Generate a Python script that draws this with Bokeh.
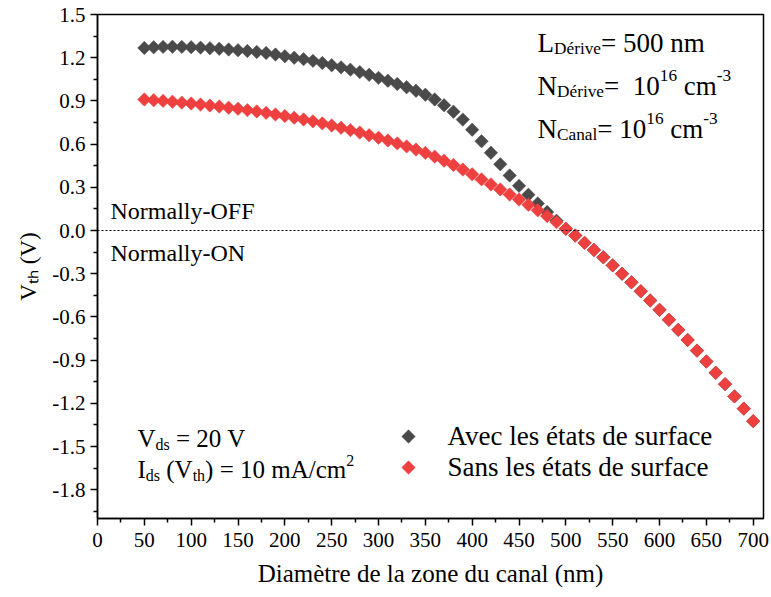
import math
from bokeh.plotting import figure
from bokeh.models import Label, Span, FixedTicker, PrintfTickFormatter, Range1d
from bokeh.embed import file_html
from bokeh.resources import INLINE

# ---------------- data ----------------
diametre = [50, 60, 70, 80, 90, 100, 110, 120, 130, 140, 150, 160, 170, 180, 190,
            200, 210, 220, 230, 240, 250, 260, 270, 280, 290, 300, 310, 320, 330,
            340, 350, 360, 370, 380, 390, 400, 410, 420, 430, 440, 450, 460, 470,
            480, 490, 500, 510, 520, 530, 540, 550, 560, 570, 580, 590, 600, 610,
            620, 630, 640, 650, 660, 670, 680, 690, 700]

vth_avec = [1.268, 1.272, 1.275, 1.276, 1.275, 1.273, 1.270, 1.266, 1.262, 1.257,
            1.252, 1.246, 1.240, 1.233, 1.222, 1.210, 1.200, 1.190, 1.178, 1.163,
            1.148, 1.133, 1.117, 1.100, 1.081, 1.060, 1.040, 1.018, 0.995, 0.970,
            0.943, 0.910, 0.870, 0.825, 0.770, 0.700, 0.620, 0.540, 0.460, 0.382,
            0.310, 0.248, 0.188, 0.128, 0.068, 0.012, -0.035, -0.086, -0.135, -0.186,
            -0.242, -0.300, -0.360, -0.422, -0.486, -0.551, -0.620, -0.690, -0.760,
            -0.834, -0.910, -0.988, -1.067, -1.152, -1.237, -1.324]

vth_sans = [0.910, 0.905, 0.900, 0.894, 0.888, 0.882, 0.875, 0.868, 0.861, 0.853,
            0.845, 0.836, 0.827, 0.817, 0.806, 0.795, 0.783, 0.771, 0.758, 0.744,
            0.729, 0.713, 0.697, 0.680, 0.662, 0.644, 0.625, 0.605, 0.584, 0.562,
            0.539, 0.513, 0.485, 0.455, 0.423, 0.390, 0.355, 0.320, 0.285, 0.250,
            0.215, 0.178, 0.140, 0.100, 0.058, 0.012, -0.035, -0.086, -0.135, -0.186,
            -0.242, -0.300, -0.360, -0.422, -0.486, -0.551, -0.620, -0.690, -0.760,
            -0.834, -0.910, -0.988, -1.067, -1.152, -1.237, -1.324]

x_ticks = [0, 50, 100, 150, 200, 250, 300, 350, 400, 450, 500, 550, 600, 650, 700]
y_ticks = [-1.8, -1.5, -1.2, -0.9, -0.6, -0.3, 0.0, 0.3, 0.6, 0.9, 1.2, 1.5]

serie_noms = ["Avec les états de surface", "Sans les états de surface"]
serie_couleurs = ["#4a4a4a", "#ef4040"]

# ---------------- layout ----------------
W, H = 771, 597
FL, FT, FR, FB = 97, 14, 8, 79
FW, FH = W - FL - FR, H - FT - FB
X0, X1 = 0, 711
Y0, Y1 = -2.0, 1.5
FONT = "Liberation Serif"

p = figure(width=W, height=H, output_backend="svg", toolbar_location=None,
           x_range=Range1d(X0, X1), y_range=Range1d(Y0, Y1),
           min_border_left=FL, min_border_right=FR, min_border_top=FT,
           min_border_bottom=FB)
p.grid.visible = False
p.outline_line_color = "black"
p.outline_line_width = 1.5
p.background_fill_color = "white"
p.border_fill_color = "white"

p.xaxis.ticker = FixedTicker(ticks=x_ticks, minor_ticks=[t + 25 for t in x_ticks])
p.yaxis.ticker = FixedTicker(ticks=y_ticks, minor_ticks=[round(t - 0.15, 2) for t in y_ticks])
p.yaxis.formatter = PrintfTickFormatter(format="%.1f")
for ax in (p.xaxis, p.yaxis):
    ax.axis_line_color = "black"
    ax.axis_line_width = 1.5
    ax.major_tick_line_color = "black"
    ax.major_tick_line_width = 1.5
    ax.minor_tick_line_color = "black"
    ax.minor_tick_line_width = 1.5
    ax.major_tick_out = 7
    ax.major_tick_in = 0
    ax.minor_tick_out = 4
    ax.minor_tick_in = 0
    ax.major_label_text_font = FONT
    ax.major_label_text_font_size = "21px"
    ax.major_label_text_color = "black"
    ax.axis_label_text_font = FONT
    ax.axis_label_text_font_style = "normal"
    ax.axis_label_text_color = "black"
p.xaxis.major_label_standoff = 7
p.yaxis.major_label_standoff = 5
p.xaxis.axis_label = "Diamètre de la zone du canal (nm)"
p.xaxis.axis_label_text_font_size = "25px"
p.xaxis.axis_label_standoff = 10
p.yaxis.axis_label = "V\u209c\u2095 (V)"
p.yaxis.axis_label_text_font_size = "23px"
p.yaxis.axis_label_standoff = 8

p.add_layout(Span(location=0, dimension="width", line_color="black",
                  line_dash="2 2", line_width=1))

for ys, col in zip([vth_avec, vth_sans], serie_couleurs):
    p.scatter(diametre, ys, marker="square", size=9.5, angle=math.pi / 4,
              fill_color=col, line_color=col, line_width=0.5)

# -------------- helpers for annotations (pixel -> data) --------------
def dx(px):
    return X0 + (px - FL) / FW * (X1 - X0)

def dy(py):
    return Y1 - (py - FT) / FH * (Y1 - Y0)

WID = {' ': 250, '.': 250, '=': 564, '(': 333, ')': 333, '-': 333, '/': 278,
       'A': 722, 'C': 667, 'D': 722, 'F': 556, 'I': 333, 'L': 611, 'N': 722,
       'O': 722, 'S': 556, 'V': 722, 'a': 444, 'c': 444, 'd': 500, 'e': 444,
       'é': 444, 'h': 500, 'i': 278, 'l': 278, 'm': 778, 'n': 500, 'r': 333,
       's': 389, 't': 278, 'v': 500, 'u': 500, 'f': 333, 'y': 500}

def tw(s, fs):
    return sum(WID.get(c, 500) for c in s) / 1000 * fs

def keep_spaces(s):
    # SVG collapses leading/trailing/double spaces: protect them
    s = s.replace("  ", " \u00a0")
    if s.startswith(" "):
        s = "\u00a0" + s[1:]
    if s.endswith(" "):
        s = s[:-1] + "\u00a0"
    return s

def rich(px, py, pieces, size):
    pos = 0.0
    for txt, kind in pieces:
        fs = size if kind == "n" else size * 0.64
        off = 0 if kind == "n" else (size * 0.22 if kind == "sub" else -size * 0.38)
        p.add_layout(Label(x=dx(px + pos), y=dy(py + off), text=keep_spaces(txt),
                           text_font=FONT, text_font_size=f"{fs:.1f}px",
                           text_baseline="alphabetic", text_align="left",
                           text_color="black"))
        pos += tw(txt, fs)

# Normally OFF / ON
rich(110, 210, [("Normally-OFF", "n")], 24)
rich(110, 252, [("Normally-ON", "n")], 24)

# top-right parameter block
rich(537, 42, [("L", "n"), ("Dérive", "sub"), ("= 500 nm", "n")], 27)
rich(537, 85, [("N", "n"), ("Dérive", "sub"), ("=  10", "n"), ("16", "sup"),
               (" cm", "n"), ("-3", "sup")], 27)
rich(537, 128, [("N", "n"), ("Canal", "sub"), ("= 10", "n"), ("16", "sup"),
                (" cm", "n"), ("-3", "sup")], 27)

# bottom-left conditions
rich(137, 438, [("V", "n"), ("ds", "sub"), (" = 20 V", "n")], 25)
rich(137, 469, [("I", "n"), ("ds", "sub"), (" (V", "n"), ("th", "sub"),
                (") = 10 mA/cm", "n"), ("2", "sup")], 25)

# legend
leg_px = [(408, 436), (408, 467)]
p.scatter([dx(a) for a, b in leg_px], [dy(b) for a, b in leg_px], marker="square",
          size=9.5, angle=math.pi / 4, fill_color=serie_couleurs,
          line_color=serie_couleurs, line_width=0.5)
for (a, b), nom in zip(leg_px, serie_noms):
    rich(447, b - 1, [(nom, "n")], 27)

open("out.html", "w").write(file_html(p, INLINE))
